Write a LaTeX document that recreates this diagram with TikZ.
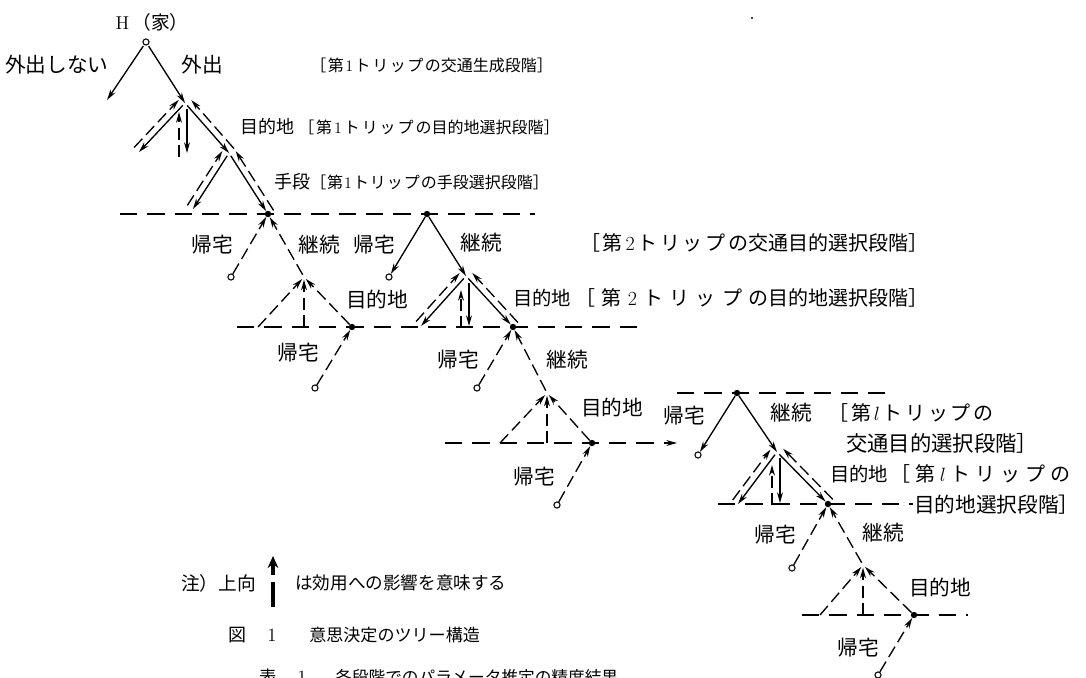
\documentclass[tikz,border=0pt]{standalone}
\usepackage{fontspec}
\newfontfamily\jp{Noto Sans CJK JP}
\usetikzlibrary{arrows.meta,calc}
\ExplSyntaxOn
\NewDocumentCommand\spr{mm}{\makebox[#1][s]{\tl_map_inline:nn{#2}{{##1}\hfil}\unskip}}
\ExplSyntaxOff
\newcommand\fs[1]{\fontsize{#1}{#1}\selectfont}
\newcommand\twoway[4]{%
  \draw[sol,tip,shorten <=2.5pt] (#1) -- (#2);
  \draw[das,tip,shorten >=1.5pt] ($(#2)!5pt!#4:(#1)$) -- ($(#1)!5pt!#3:(#2)$);}
\begin{document}
\begin{tikzpicture}[x=0.75pt,y=-0.75pt,
  sol/.style={line width=1pt},
  das/.style={line width=1pt,dash pattern=on 9pt off 4pt},
  hdas/.style={line width=0.9pt,dash pattern=on 13pt off 7.5pt},
  tip/.style={-{Stealth[length=8pt,width=4.4pt]}},
  opn/.style={circle,draw,line width=0.8pt,inner sep=0pt,minimum size=4.6pt,fill=white},
  dot/.style={circle,fill,inner sep=0pt,minimum size=4.8pt},
  lab/.style={font=\jp\fs{15.5},inner sep=0pt},
  br1/.style={font=\jp\fs{12},inner sep=0pt,anchor=west},
  br2/.style={font=\jp\fs{15},inner sep=0pt,anchor=west}]
\useasboundingbox (0,0) rectangle (1086,678);
\clip (0,0) rectangle (1086,678);

% ---------- horizontal dashed stage lines
\coordinate (h1a) at (120,214); \coordinate (h1b) at (535,214);
\coordinate (h2a) at (237,327); \coordinate (h2b) at (640,327);
\coordinate (h3a) at (445,443); \coordinate (h3b) at (677,443);
\coordinate (h4a) at (677,393); \coordinate (h4b) at (885,393);
\coordinate (h5a) at (718,504); \coordinate (h5b) at (913,504);
\coordinate (h6a) at (802,615); \coordinate (h6b) at (968,615);
\draw[hdas] (h1a) -- (h1b);
\draw[hdas] (h2a) -- (h2b);
\draw[hdas,tip] (h3a) -- (h3b);
\draw[hdas] (h4a) -- (h4b);
\draw[hdas] (h5a) -- (h5b);
\draw[hdas] (h6a) -- (h6b);

% ---------- nodes
\node[opn] (H) at (146,42) {};
\coordinate (NoGo) at (107,100);
\coordinate (D1) at (185,103);
\coordinate (D1L) at (139,152);
\coordinate (M1) at (229,153);
\coordinate (M1L) at (193,209);
\node[dot] (N2) at (268,214) {};
\node[opn] (R1) at (231,277) {};
\coordinate (A) at (304,277);
\coordinate (A1) at (258,327);
\coordinate (A2) at (304,327);
\node[dot] (N3) at (352,327) {};
\node[opn] (R2) at (315,388) {};
\node[dot] (T2) at (427,214) {};
\node[opn] (R3) at (389,277) {};
\coordinate (D2) at (466,276);
\coordinate (D2L) at (421,326);
\node[dot] (N4) at (513,327) {};
\node[opn] (R4) at (477,388) {};
\coordinate (B) at (547,393);
\coordinate (B1) at (500,443);
\coordinate (B2) at (547,443);
\node[dot] (N5) at (592,443) {};
\node[opn] (R5) at (557,505) {};
\node[dot] (TL) at (737,393) {};
\node[opn] (R6) at (698,455) {};
\coordinate (DL) at (777,452);
\coordinate (DLL) at (738,504);
\node[dot] (NL) at (828,504) {};
\node[opn] (R7) at (792,568) {};
\coordinate (C) at (863,565);
\coordinate (C1) at (820,615);
\coordinate (C2) at (863,615);
\node[dot] (N6) at (914,615) {};
\node[opn] (R8) at (878,675) {};

% ---------- trip 1
\draw[sol,tip,shorten <=1pt] (H) -- (NoGo);
\draw[sol,tip,shorten <=1pt] (H) -- (D1);
\twoway{D1}{D1L}{-90}{90}
\twoway{D1}{M1}{90}{-90}
\coordinate (D1ms) at (187,109); \coordinate (D1me) at (187,153);
\coordinate (D1ds) at (179,157); \coordinate (D1de) at (179,112);
\draw[sol,tip] (D1ms) -- (D1me);
\draw[das,tip] (D1ds) -- (D1de);
\twoway{M1}{M1L}{-90}{90}
\twoway{M1}{N2}{90}{-90}

% ---------- return / continue after trip 1
\draw[das,tip] (R1) -- (N2);
\draw[das,tip,shorten <=2pt] (A) -- (N2);
\draw[das,tip,shorten >=2pt] (A1) -- (A);
\draw[das,tip,shorten >=2pt] (A2) -- (A);
\draw[das,tip,shorten >=2pt] (N3) -- (A);
\draw[das,tip] (R2) -- (N3);

% ---------- trip 2
\draw[sol,tip] (T2) -- (R3);
\draw[sol,tip] (T2) -- (D2);
\twoway{D2}{D2L}{-90}{90}
\twoway{D2}{N4}{90}{-90}
\coordinate (D2ms) at (469,283); \coordinate (D2me) at (469,326);
\coordinate (D2ds) at (461,328); \coordinate (D2de) at (461,290);
\draw[sol,tip] (D2ms) -- (D2me);
\draw[das,tip] (D2ds) -- (D2de);
\draw[das,tip] (R4) -- (N4);
\draw[das,tip,shorten <=2pt] (B) -- (N4);
\draw[das,tip,shorten >=2pt] (B1) -- (B);
\draw[das,tip,shorten >=2pt] (B2) -- (B);
\draw[das,tip,shorten >=2pt] (N5) -- (B);
\draw[das,tip] (R5) -- (N5);

% ---------- trip l
\draw[sol,tip] (TL) -- (R6);
\draw[sol,tip] (TL) -- (DL);
\twoway{DL}{DLL}{-90}{90}
\twoway{DL}{NL}{90}{-90}
\coordinate (DLms) at (780,458); \coordinate (DLme) at (780,503);
\coordinate (DLds) at (772,505); \coordinate (DLde) at (772,465);
\draw[sol,tip] (DLms) -- (DLme);
\draw[das,tip] (DLds) -- (DLde);
\draw[das,tip] (R7) -- (NL);
\draw[das,tip,shorten <=2pt] (C) -- (NL);
\draw[das,tip,shorten >=2pt] (C1) -- (C);
\draw[das,tip,shorten >=2pt] (C2) -- (C);
\draw[das,tip,shorten >=2pt] (N6) -- (C);
\draw[das,tip] (R8) -- (N6);

% ---------- labels
\node[lab,font=\jp\fs{14}] (lH) at (152,22) {{\rmfamily H}\,（家）};
\node[lab] (l1) at (57,65) {外出しない};
\node[lab] (l2) at (202,65) {外出};
\node[br1] (t1) at (310,65) {\spr{98pt}{［第{\rmfamily 1}トリップの}交通生成段階］};
\node[lab,anchor=west,font=\jp\fs{13.5}] (t2m) at (240,127) {目的地};
\node[br1] (t2) at (298,127) {\spr{100pt}{［第{\rmfamily 1}トリップの}目的地選択段階］};
\node[lab,anchor=west,font=\jp\fs{13.5}] (t3m) at (274,182) {手段};
\node[br1] (t3) at (310,182) {\spr{95pt}{［第{\rmfamily 1}トリップの}手段選択段階］};

\node[lab] (k1) at (212,245) {帰宅};
\node[lab] (c1) at (319,245) {継続};
\node[lab] (k2) at (374,245) {帰宅};
\node[lab] (c2) at (481,243) {継続};
\node[br2] (t4) at (580,243) {\spr{126pt}{［第{\rmfamily 2}トリップの}交通目的選択段階］};
\node[lab] (m1) at (377,300) {目的地};
\node[lab,anchor=west,font=\jp\fs{14.5}] (t5m) at (513,298) {目的地};
\node[br2] (t5) at (575,298) {\spr{145pt}{［第{\rmfamily 2}トリップの}目的地選択段階］};
\node[lab] (k3) at (298,353) {帰宅};
\node[lab] (k4) at (458,360) {帰宅};
\node[lab] (c3) at (567,360) {継続};
\node[lab] (m2) at (612,408) {目的地};
\node[lab] (k5) at (534,477) {帰宅};
\node[lab] (k6) at (684,416) {帰宅};
\node[lab] (c4) at (791,413) {継続};
\node[br2] (t6) at (828,413) {\spr{124pt}{［第{$l$}トリップの}};
\node[br2,font=\jp\fs{16}] (t7) at (846,443) {交通目的選択段階］};
\node[lab,anchor=west,font=\jp\fs{14.5}] (t8m) at (830,474) {目的地};
\node[br2] (t8) at (890,474) {\spr{135pt}{［第{$l$}トリップの}};
\node[br2,font=\jp\fs{15.5}] (t9) at (914,505) {目的地選択段階］};
\node[lab] (k7) at (775,535) {帰宅};
\node[lab] (c5) at (883,533) {継続};
\node[lab] (m3) at (940,588) {目的地};
\node[lab] (k8) at (858,648) {帰宅};

% ---------- legend and captions
\node[lab,anchor=west,font=\jp\fs{14}] (nt1) at (181,583) {注）上向};
\coordinate (lg1) at (273,607); \coordinate (lg2) at (273,582);
\coordinate (lg3) at (273,575); \coordinate (lg4) at (273,556);
\draw[line width=3pt] (lg1) -- (lg2);
\draw[line width=3pt,-{Stealth[length=9pt,width=8pt]}] (lg3) -- (lg4);
\node[lab,anchor=west,font=\jp\fs{13.2}] (nt2) at (295,583) {は効用への影響を意味する};
\node[lab,font=\jp\fs{13.5}] (cp1) at (237,635) {図};
\node[lab,font=\rmfamily\fs{14}] (cp2) at (272,635) {1};
\node[lab,anchor=west,font=\jp\fs{12.8}] (cp3) at (309,635) {意思決定のツリー構造};
\node[lab,font=\jp\fs{13}] (tb1) at (268,677) {表};
\node[lab,font=\rmfamily\fs{14}] (tb2) at (302,677) {1};
\node[lab,anchor=west,font=\jp\fs{12.5}] (tb3) at (335,677) {各段階でのパラメータ推定の精度結果};
\fill (752,18) circle (0.8pt);
\end{tikzpicture}
\end{document}
